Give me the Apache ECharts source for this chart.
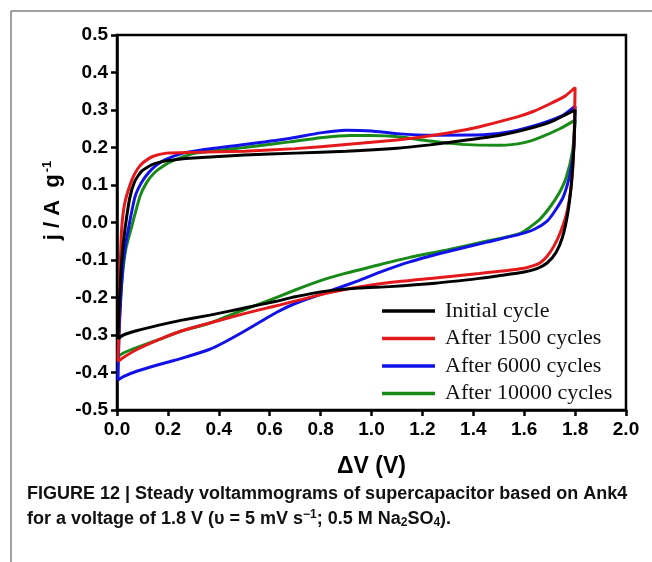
<!DOCTYPE html>
<html>
<head>
<meta charset="utf-8">
<script src="https://cdn.jsdelivr.net/npm/echarts@6/dist/echarts.min.js"></script>
<style>
html,body{margin:0;padding:0;background:#fff;}
#chart{width:652px;height:562px;}
</style>
</head>
<body>
<div id="chart"></div>
<script>
// ---- data (ΔV in V, j in A/g), each loop: forward scan 0→1.8 then reverse 1.8→0
const seriesNames = ['Initial cycle', 'After 1500 cycles', 'After 6000 cycles', 'After 10000 cycles'];

const initialV = [0.004,0.010,0.020,0.031,0.050,0.070,0.097,0.140,0.200,0.300,0.500,0.700,0.900,1.100,1.230,1.375,1.500,1.600,1.700,1.800,
  1.795,1.785,1.770,1.750,1.725,1.690,1.650,1.600,1.500,1.424,1.250,1.071,0.950,0.822,0.700,0.626,0.500,0.365,0.250,0.169,0.080,0.025,0.004];
const initialJ = [-0.310,-0.200,-0.090,-0.020,0.065,0.110,0.137,0.155,0.165,0.172,0.180,0.185,0.190,0.198,0.207,0.220,0.232,0.247,0.267,0.300,
  0.200,0.100,0.020,-0.040,-0.080,-0.108,-0.123,-0.132,-0.142,-0.149,-0.162,-0.171,-0.175,-0.183,-0.198,-0.210,-0.228,-0.247,-0.261,-0.273,-0.288,-0.300,-0.310];

const c1500V = [0.004,0.008,0.012,0.018,0.030,0.058,0.080,0.103,0.140,0.195,0.300,0.500,0.700,0.900,1.100,1.240,1.375,1.440,1.570,1.635,1.700,1.760,1.800,
  1.795,1.785,1.767,1.740,1.715,1.690,1.659,1.600,1.424,1.250,1.071,0.950,0.822,0.626,0.500,0.365,0.250,0.169,0.080,0.025,0.004];
const c1500J = [-0.370,-0.250,-0.130,-0.020,0.050,0.113,0.142,0.160,0.176,0.185,0.187,0.190,0.197,0.208,0.220,0.232,0.248,0.258,0.281,0.296,0.316,0.337,0.360,
  0.200,0.100,0.025,-0.030,-0.065,-0.090,-0.109,-0.122,-0.136,-0.148,-0.160,-0.172,-0.189,-0.222,-0.243,-0.268,-0.290,-0.311,-0.338,-0.360,-0.371];

const c6000V = [0.004,0.008,0.015,0.025,0.044,0.071,0.095,0.123,0.155,0.188,0.250,0.325,0.500,0.678,0.800,0.900,1.000,1.100,1.240,1.440,1.550,1.663,1.750,1.800,
  1.795,1.780,1.754,1.720,1.689,1.640,1.584,1.450,1.297,1.150,1.031,0.950,0.822,0.700,0.626,0.500,0.420,0.365,0.250,0.169,0.080,0.025,0.004];
const c6000J = [-0.420,-0.300,-0.200,-0.100,-0.020,0.069,0.105,0.132,0.153,0.167,0.183,0.193,0.208,0.224,0.239,0.246,0.244,0.237,0.233,0.234,0.243,0.263,0.285,0.310,
  0.200,0.130,0.069,0.030,0.003,-0.018,-0.031,-0.053,-0.078,-0.105,-0.133,-0.155,-0.186,-0.216,-0.240,-0.290,-0.320,-0.338,-0.363,-0.378,-0.396,-0.411,-0.420];

const c10000V = [0.005,0.010,0.020,0.035,0.058,0.090,0.115,0.146,0.185,0.227,0.310,0.500,0.678,0.800,0.918,1.000,1.114,1.200,1.310,1.400,1.506,1.600,1.663,1.740,1.800,
  1.790,1.765,1.737,1.700,1.659,1.584,1.450,1.297,1.150,1.000,0.900,0.800,0.700,0.600,0.500,0.365,0.250,0.169,0.080,0.025,0.005];
const c10000J = [-0.357,-0.250,-0.150,-0.070,-0.010,0.069,0.105,0.132,0.152,0.167,0.185,0.200,0.215,0.226,0.232,0.232,0.228,0.220,0.211,0.207,0.206,0.213,0.227,0.250,0.273,
  0.190,0.120,0.078,0.040,0.007,-0.029,-0.050,-0.073,-0.093,-0.118,-0.135,-0.155,-0.180,-0.207,-0.232,-0.268,-0.290,-0.311,-0.333,-0.348,-0.357];

const xTicks = [0.0,0.2,0.4,0.6,0.8,1.0,1.2,1.4,1.6,1.8,2.0];
const yTicks = [-0.5,-0.4,-0.3,-0.2,-0.1,0.0,0.1,0.2,0.3,0.4,0.5];

const captionLine1 = 'FIGURE 12 | Steady voltammograms of supercapacitor based on Ank4';
const colors = ['#000000', '#e3191c', '#1212e8', '#178a17'];

// ---- build
const zip = (xs, ys) => xs.map((x, i) => [x, ys[i]]);
const loops = [zip(initialV, initialJ), zip(c1500V, c1500J), zip(c6000V, c6000J), zip(c10000V, c10000J)];

const chart = echarts.init(document.getElementById('chart'), null, {renderer: 'canvas'});
const SANS = 'Liberation Sans, Arial, sans-serif';
const axisFont = {fontFamily: SANS, fontWeight: 'bold', fontSize: 19, color: '#000'};

chart.setOption({
  backgroundColor: '#fff',
  animation: false,
  grid: {left: 117, top: 35, width: 509, height: 375, show: true, borderColor: '#000', borderWidth: 2.5, backgroundColor: 'transparent'},
  xAxis: {
    type: 'value', min: 0, max: 2.0, interval: 0.2,
    axisLine: {show: true, onZero: false, lineStyle: {color: '#000', width: 2.5}},
    axisTick: {show: true, inside: false, length: 6, lineStyle: {color: '#000', width: 2.5}},
    axisLabel: Object.assign({margin: 10, formatter: v => v.toFixed(1)}, axisFont),
    splitLine: {show: false},
    name: 'ΔV (V)', nameLocation: 'middle', nameGap: 45,
    nameTextStyle: {fontFamily: SANS, fontWeight: 'bold', fontSize: 23, color: '#000'}
  },
  yAxis: {
    type: 'value', min: -0.5, max: 0.5, interval: 0.1,
    axisLine: {show: true, onZero: false, lineStyle: {color: '#000', width: 2.5}},
    axisTick: {show: true, inside: false, length: 6, lineStyle: {color: '#000', width: 2.5}},
    axisLabel: Object.assign({margin: 9, formatter: v => v.toFixed(1)}, axisFont),
    splitLine: {show: false},
    name: 'j / A  g{sup|-1}', nameLocation: 'middle', nameGap: 52, nameRotate: 90,
    nameTextStyle: {
      fontFamily: SANS, fontWeight: 'bold', fontSize: 22, color: '#000',
      padding: [0, 0, 0, 44],
      rich: {sup: {fontFamily: SANS, fontWeight: 'bold', fontSize: 13, color: '#000', verticalAlign: 'top', padding: [0, 0, 11, 2]}}
    }
  },
  legend: {
    orient: 'vertical', left: 382, top: 300, padding: 0,
    itemWidth: 53, itemHeight: 14, itemGap: 5.5,
    data: seriesNames.map((n, i) => ({name: n, icon: 'path://M0,0 L53,0 L53,3.5 L0,3.5 Z', itemStyle: {color: colors[i]}})),
    textStyle: {fontFamily: 'Liberation Serif, Times New Roman, serif', fontSize: 22, color: '#111', padding: [0, 0, 0, 5]}
  },
  series: seriesNames.map((n, i) => ({
    name: n, type: 'line', data: loops[i], showSymbol: false, symbol: 'none',
    smooth: 0.2, color: colors[i],
    lineStyle: {color: colors[i], width: 3}, z: 4 - i
  })),
  graphic: [
    {type: 'line', shape: {x1: 11, y1: 11, x2: 652, y2: 11}, style: {stroke: '#808080', lineWidth: 1.5}, silent: true},
    {type: 'line', shape: {x1: 11, y1: 11, x2: 11, y2: 562}, style: {stroke: '#808080', lineWidth: 1.5}, silent: true},
    {type: 'text', left: 27, top: 485, style: {text: captionLine1, fontFamily: SANS, fontWeight: 'bold', fontSize: 18, fill: '#111'}},
    {type: 'text', left: 27, top: 509, style: {
      text: 'for a voltage of 1.8 V (υ = 5 mV s{sup|−1}; 0.5 M Na{sub|2}SO{sub|4}).',
      fontFamily: SANS, fontWeight: 'bold', fontSize: 18, fill: '#111',
      rich: {
        sup: {fontFamily: SANS, fontWeight: 'bold', fontSize: 12, fill: '#111', verticalAlign: 'top', padding: [0, 0, 8, 0]},
        sub: {fontFamily: SANS, fontWeight: 'bold', fontSize: 12, fill: '#111', verticalAlign: 'bottom', padding: [6, 0, 0, 0]}
      }
    }}
  ]
});
</script>
</body>
</html>
